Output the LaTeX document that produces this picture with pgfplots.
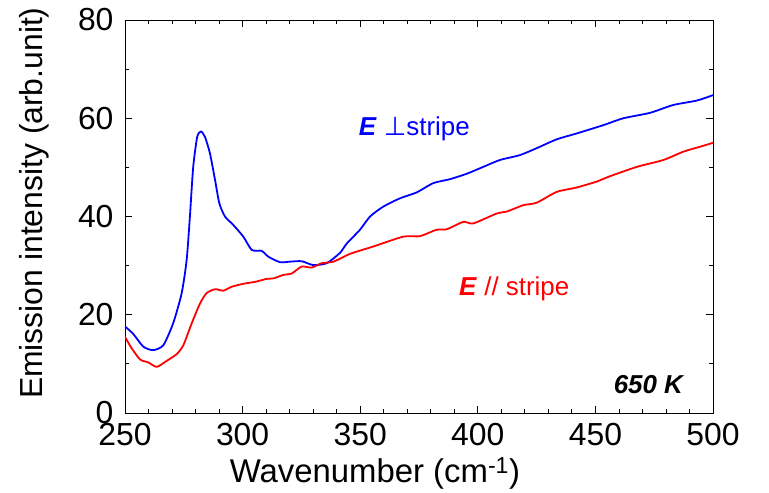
\documentclass[border=0pt]{standalone}
\usepackage{fontspec}
\setmainfont{Liberation Sans}
\newfontfamily\symfont{DejaVu Sans}
\usepackage{pgfplots}
\pgfplotsset{compat=1.18}

\pgfplotstableread{
x y
250 17.6
253.5 16.1
257.8 13.5
262 12.8
266.3 13.8
270.5 18.3
274.1 24.4
276.2 31.1
277.6 40
279 50.1
280.7 56.2
282.3 57.3
284 56.2
286.1 52.9
288.3 47.4
290.1 42.7
292.5 40
296 38.3
300.3 35.9
303.9 33.2
308.1 33.0
311 31.8
315.9 30.7
320 30.8
325.1 30.9
330.1 30.1
335.8 30.5
341.4 32.6
344.3 34.5
349.9 37.3
354.2 40
359.8 42
366.9 43.7
374 44.9
381.1 46.8
388.2 47.6
395.3 48.7
402.3 50.1
409.4 51.5
417.9 52.5
425 53.9
433.5 55.7
442 56.9
453.4 58.6
461.9 60
473.2 61.1
483.1 62.7
493.1 63.6
500 64.7
}\perp

\pgfplotstableread{
x y
250 15.5
252.8 13.2
256.4 10.9
259.9 10.3
263.5 9.4
267.7 10.6
272 12
274.8 13.8
278.4 18.3
281.9 22.3
284.7 24.4
288.3 25.2
291.8 24.9
295.4 25.7
300.3 26.3
305.3 26.7
310.2 27.3
313.1 27.4
317.3 28.1
320.9 28.4
325.1 29.8
329.4 29.6
333.6 30.5
338.6 30.8
345.7 32.4
355.6 33.9
368.3 35.9
375.4 36.0
382.5 37.3
386.8 37.4
393.8 38.9
398.1 38.6
408 40.6
412.3 41.0
419.3 42.3
425 42.8
433.5 45.0
442 45.9
450.5 47.1
456.2 48.2
467.6 50.1
478.9 51.5
487.4 53.2
494.5 54.2
500 55.0
}\para

\begin{document}
\begin{tikzpicture}
\begin{axis}[
  name=ax,
  scale only axis,
  width=588bp, height=393bp,
  xmin=250, xmax=500, ymin=0, ymax=80,
  xtick={250,300,...,500}, ytick={0,20,...,80},
  minor x tick num=4, minor y tick num=1,
  tick align=inside,
  major tick length=7bp, minor tick length=4bp,
  every tick/.style={black, line width=0.8pt},
  axis line style={line width=0.9pt},
  /pgf/number format/assume math mode=true,
  tick label style={font=\fontsize{32}{36}\selectfont},
  label style={font=\fontsize{33}{38}\selectfont},
  xticklabel style={yshift=-7bp},
  yticklabel style={xshift=-8bp},
  xlabel={Wavenumber (cm\textsuperscript{-1})},
  ylabel={Emission intensity (arb.unit)},
  xlabel style={at={(axis description cs:0.425,-0.178)}, anchor=base},
  ylabel style={at={(axis description cs:-0.1395,0.534)}, anchor=base,
    font=\fontsize{32}{36}\selectfont},
]
\addplot[blue, line width=1.8pt, smooth, tension=0.4] table[x=x,y=y]{\perp};
\addplot[red, line width=1.8pt, smooth, tension=0.4] table[x=x,y=y]{\para};
\node[blue, font=\fontsize{26}{30}\selectfont] at (axis cs:373,57.8)
  {\textbf{\textit{E}} {\symfont ⊥}stripe};
\node[red, font=\fontsize{26}{30}\selectfont] at (axis cs:415.5,25.2)
  {\textbf{\textit{E}} // stripe};
\node[black, font=\fontsize{26}{30}\selectfont\bfseries\itshape] at (axis cs:472.5,5.7)
  {650 K};
\end{axis}
\pgfresetboundingbox
\path ([shift={(-125bp,-80bp)}]ax.south west) rectangle ([shift={(56bp,20bp)}]ax.north east);
\end{tikzpicture}
\end{document}
